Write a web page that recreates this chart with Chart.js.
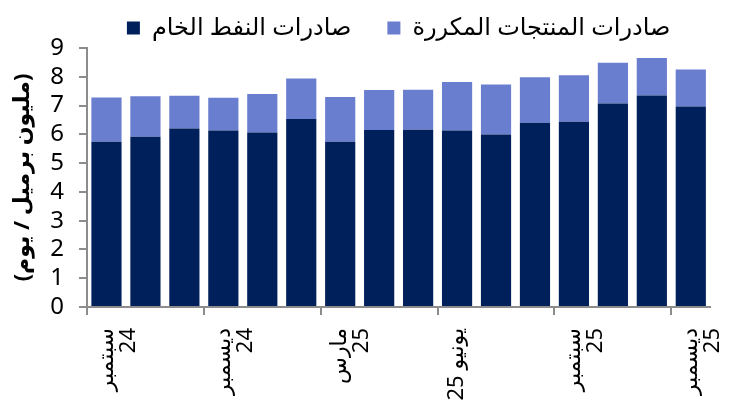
<!DOCTYPE html>
<html lang="ar">
<head>
<meta charset="utf-8">
<script src="https://cdn.jsdelivr.net/npm/chart.js@4.4.1/dist/chart.umd.min.js"></script>
<style>
    html, body { margin: 0; padding: 0; background: #fff; overflow: hidden; }
    #wrap { width: 749px; height: 408px; position: relative; }
</style>
</head>
<body>
<div id="wrap"><canvas id="exportsChart"></canvas></div>
<script>
// months Sep 24 -> Dec 25, only every third one gets a tick label
const months = [
    ['سبتمبر', '24'], 'أكتوبر 24', 'نوفمبر 24',
    ['ديسمبر', '24'], 'يناير 25', 'فبراير 25',
    ['مارس', '25'], 'أبريل 25', 'مايو 25',
    'يونيو 25', 'يوليو 25', 'أغسطس 25',
    ['سبتمبر', '25'], 'أكتوبر 25', 'نوفمبر 25',
    ['ديسمبر', '25']
];
const crudeExports = [5.74, 5.92, 6.20, 6.13, 6.06, 6.53, 5.74, 6.15, 6.16, 6.13, 5.99, 6.40, 6.44, 7.07, 7.35, 6.97];
const refinedExports = [1.54, 1.40, 1.14, 1.14, 1.34, 1.41, 1.56, 1.39, 1.39, 1.69, 1.74, 1.58, 1.61, 1.42, 1.30, 1.28];
const crudeLabel = 'صادرات النفط الخام';
const refinedLabel = 'صادرات المنتجات المكررة';
const yTitle = '(مليون برميل / يوم)';

document.addEventListener('DOMContentLoaded', function() {
    const ctx = document.getElementById('exportsChart').getContext('2d');
    const axisGrey = '#8c8c8c';
    const fontFamily = "'Noto Sans', 'DejaVu Sans', sans-serif";

    new Chart(ctx, {
        type: 'bar',
        data: {
            labels: months,
            datasets: [{
                label: crudeLabel,
                data: crudeExports,
                backgroundColor: '#00205b',
                borderWidth: 0,
                barPercentage: 0.775,
                categoryPercentage: 1.0
            }, {
                label: refinedLabel,
                data: refinedExports,
                backgroundColor: '#6a7ecf',
                borderWidth: 0,
                barPercentage: 0.775,
                categoryPercentage: 1.0
            }]
        },
        options: {
            responsive: true,
            maintainAspectRatio: false,
            animation: false,
            layout: {
                padding: { top: -20, right: 2, bottom: 0, left: 0 }
            },
            plugins: {
                tooltip: { enabled: false },
                legend: {
                    position: 'top',
                    fullSize: false,
                    maxHeight: 68,
                    labels: {
                        boxWidth: 13,
                        boxHeight: 13,
                        padding: 36,
                        color: '#000',
                        font: { family: fontFamily, size: 24 }
                    }
                }
            },
            scales: {
                x: {
                    stacked: true,
                    afterFit: function(scale) { scale.height = 101; },
                    border: { color: axisGrey, width: 2 },
                    grid: {
                        offset: true,
                        drawOnChartArea: false,
                        tickLength: 8,
                        lineWidth: 2,
                        color: function(c) { return c.index % 3 === 0 ? axisGrey : 'rgba(0,0,0,0)'; }
                    },
                    ticks: {
                        autoSkip: false,
                        minRotation: 90,
                        maxRotation: 90,
                        padding: 13,
                        color: '#000',
                        font: { family: fontFamily, size: 22, lineHeight: 1.0 },
                        callback: function(value, index) {
                            return index % 3 === 0 ? months[index] : '';
                        }
                    }
                },
                y: {
                    stacked: true,
                    min: 0,
                    max: 9,
                    afterFit: function(scale) { scale.width = 87; },
                    border: { color: axisGrey, width: 2 },
                    grid: {
                        drawOnChartArea: false,
                        tickLength: 8,
                        lineWidth: 2,
                        color: axisGrey
                    },
                    ticks: {
                        stepSize: 1,
                        autoSkip: false,
                        padding: 15,
                        color: '#000',
                        font: { family: fontFamily, size: 24, lineHeight: 1.0 }
                    },
                    title: {
                        display: true,
                        text: yTitle,
                        color: '#000',
                        padding: { top: 10, bottom: 0 },
                        font: { family: fontFamily, size: 22, weight: 'bold' }
                    }
                }
            }
        }
    });
});
</script>
</body>
</html>
